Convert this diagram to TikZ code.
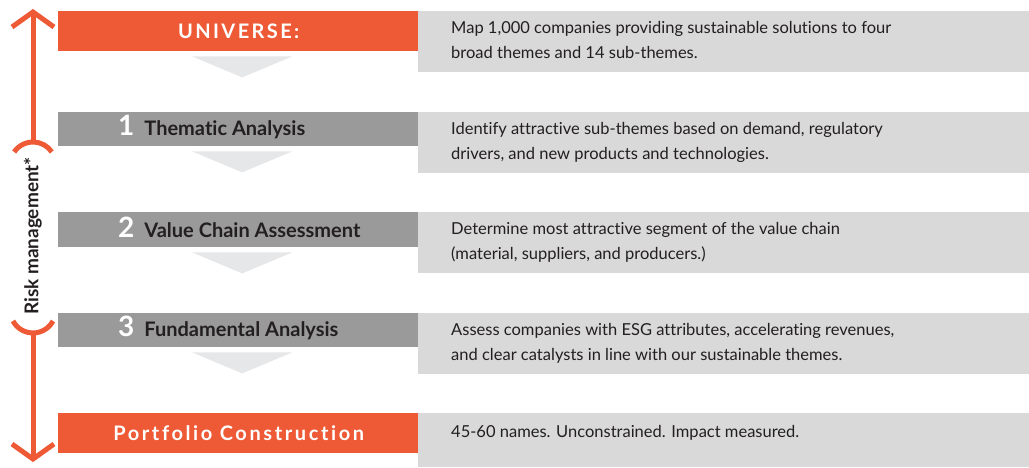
\documentclass[tikz,border=0pt]{standalone}
\usepackage{fontspec}
\setmainfont{Lato}[Ligatures=NoCommon]
\usetikzlibrary{positioning}
\definecolor{riskorange}{HTML}{EE5A36}
\definecolor{stepgray}{HTML}{9A9A9A}
\definecolor{descgray}{HTML}{D9D9D9}
\definecolor{chevgray}{HTML}{E6E7E8}
\definecolor{inkdark}{HTML}{231F20}
\newcommand{\stepnum}[1]{{\color{white}\fontsize{28}{28}\selectfont\bfseries #1}\hspace{10pt}}

\tikzset{
  leftbox/.style={anchor=north west, inner sep=0pt, minimum width=361pt},
  orangebox/.style={leftbox, fill=riskorange, minimum height=40pt, text=white,
    font=\fontsize{20}{20}\selectfont\bfseries},
  graybox/.style={leftbox, fill=stepgray, minimum height=34pt},
  steplabel/.style={anchor=west, inner sep=0pt, text=inkdark,
    font=\fontsize{20}{20}\selectfont\bfseries},
  descbox/.style={anchor=north west, inner sep=0pt, fill=descgray, minimum width=611pt},
  desctext/.style={anchor=north west, inner sep=0pt, align=left, text=inkdark,
    font=\fontsize{16.5}{25}\selectfont},
  chevron/.style={fill=chevgray},
  riskline/.style={draw=riskorange, line width=5pt, line join=miter},
  risktext/.style={rotate=90, inner sep=0pt, text=inkdark,
    font=\fontsize{19}{20}\selectfont\bfseries}
}

\begin{document}
\begin{tikzpicture}[x=1pt,y=-1pt]
\useasboundingbox (0,0) rectangle (1029,467);

% steps on the left
\node[orangebox] (universe) at (58,11) {\addfontfeatures{LetterSpace=12}UNIVERSE:};
\node[graybox] (thematic) at (58,112) {};
\node[graybox, minimum height=35pt] (valuechain) at (58,212) {};
\node[graybox] (fundamental) at (58,313) {};
\node[orangebox] (portfolio) at (58,413) {\addfontfeatures{LetterSpace=13}Portfolio Construction};
\node[steplabel, right=60pt of thematic.west, yshift=2pt] {\stepnum{1}Thematic Analysis};
\node[steplabel, right=60pt of valuechain.west, yshift=2pt] {\stepnum{2}Value Chain Assessment};
\node[steplabel, right=60pt of fundamental.west, yshift=2pt] {\stepnum{3}Fundamental Analysis};

% arrows between the steps
\foreach \b in {universe,thematic,valuechain,fundamental}
  \fill[chevron] (\b.south) ++(-46.5,5) -- ++(100,0) -- ++(-50,21) -- cycle;

% descriptions on the right
\node[descbox, minimum height=61pt] (universedesc) at (418,11) {};
\node[descbox, minimum height=61pt] (thematicdesc) at (418,112) {};
\node[descbox, minimum height=61pt] (valuechaindesc) at (418,212) {};
\node[descbox, minimum height=61pt] (fundamentaldesc) at (418,313) {};
\node[descbox, minimum height=54pt] (portfoliodesc) at (418,413) {};
\node[desctext, below right=10pt and 33pt of universedesc.north west]
  {Map 1,000 companies providing sustainable solutions to four\\broad themes and 14 sub-themes.};
\node[desctext, below right=10pt and 33pt of thematicdesc.north west]
  {Identify attractive sub-themes based on demand, regulatory\\drivers, and new products and technologies.};
\node[desctext, below right=10pt and 33pt of valuechaindesc.north west]
  {Determine most attractive segment of the value chain\\(material, suppliers, and producers.)};
\node[desctext, below right=10pt and 33pt of fundamentaldesc.north west]
  {Assess companies with ESG attributes, accelerating revenues,\\and clear catalysts in line with our sustainable themes.};
\node[desctext, below right=12pt and 33pt of portfoliodesc.north west]
  {45-60 names. Unconstrained. Impact measured.};

% risk management arrow
\coordinate (risktop) at (33,12);
\coordinate (riskbottom) at (33,459);
\coordinate (arcup) at (33,164.7);
\coordinate (arcdown) at (33,310.3);
\node[risktext] (risk) at (33,236) {Risk management*};
\draw[riskline] (risktop) -- ([yshift=22.7pt]arcup);
\draw[riskline] (arcup) ++(214:22.7) arc[start angle=214, end angle=326, radius=22.7];
\draw[riskline] (arcdown) ++(28:22.7) arc[start angle=28, end angle=152, radius=22.7];
\draw[riskline] ([yshift=-22.7pt]arcdown) -- (riskbottom);
\draw[riskline] (risktop) ++(-21,15) -- (risktop) -- ++(21,15);
\draw[riskline] (riskbottom) ++(-21,-15) -- (riskbottom) -- ++(21,-15);
\end{tikzpicture}
\end{document}
